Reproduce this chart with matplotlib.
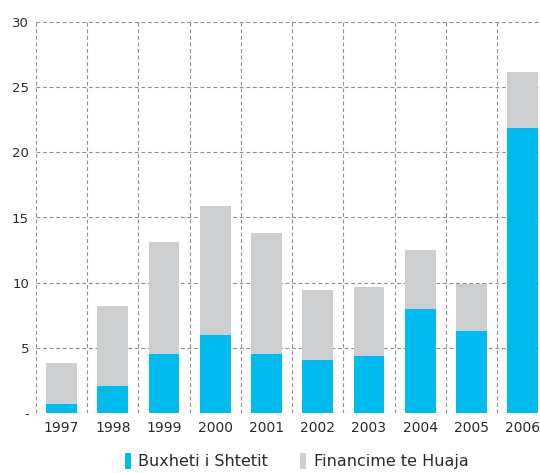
import matplotlib
matplotlib.use("Agg")
import matplotlib.pyplot as plt
from matplotlib.patches import Patch

years = ["1997", "1998", "1999", "2000", "2001", "2002", "2003", "2004", "2005", "2006"]
buxheti = [0.7, 2.1, 4.5, 6.0, 4.5, 4.05, 4.4, 8.0, 6.3, 21.9]
totali = [3.8, 8.2, 13.1, 15.9, 13.8, 9.4, 9.7, 12.5, 9.9, 26.2]
financime = [t - b for t, b in zip(totali, buxheti)]

y_ticks = [0, 5, 10, 15, 20, 25, 30]
y_labels = ["-", "5", "10", "15", "20", "25", "30"]

blue = "#00BBEE"
grey = "#CDCED0"
text_col = "#2a2a2a"

fig = plt.figure(figsize=(5.40, 4.73), dpi=100)
ax = fig.add_axes([36 / 540, 1 - 413 / 473, 1 - 36 / 540, (413 - 22) / 473])

x = list(range(len(years)))
ax.bar(x, buxheti, width=0.6, color=blue, zorder=3)
ax.bar(x, financime, width=0.6, bottom=buxheti, color=grey, zorder=3)

ax.set_xlim(-0.5, 9.34)
ax.set_ylim(0, 30)
ax.set_xticks(x)
ax.set_xticklabels(years)
ax.set_xticks([i + 0.5 for i in range(-1, len(years) - 1)], minor=True)
ax.set_yticks(y_ticks)
ax.set_yticklabels(y_labels)

dash = (0, (3.5, 2.4))
ax.grid(True, axis="y", which="major", color="#909090", linestyle=dash, linewidth=0.8)
ax.grid(True, axis="x", which="minor", color="#909090", linestyle=dash, linewidth=0.8)
ax.grid(False, axis="x", which="major")
ax.set_axisbelow(True)

for s in ax.spines.values():
    s.set_visible(False)

ax.tick_params(axis="both", which="both", length=0, colors=text_col)
ax.tick_params(axis="x", pad=6, labelsize=10)
ax.tick_params(axis="y", pad=5, labelsize=9.5)

handles = [Patch(facecolor=blue, edgecolor="none"), Patch(facecolor=grey, edgecolor="none")]
fig.legend(handles, ["Buxheti i Shtetit", "Financime te Huaja"], loc="center",
           bbox_to_anchor=(0.549, 1 - 461 / 473), ncol=2, frameon=False,
           handlelength=0.4, handleheight=1.2, handletextpad=0.45, columnspacing=2.0,
           fontsize=11.5, labelcolor=text_col)

fig.savefig("out.png", dpi=100)
